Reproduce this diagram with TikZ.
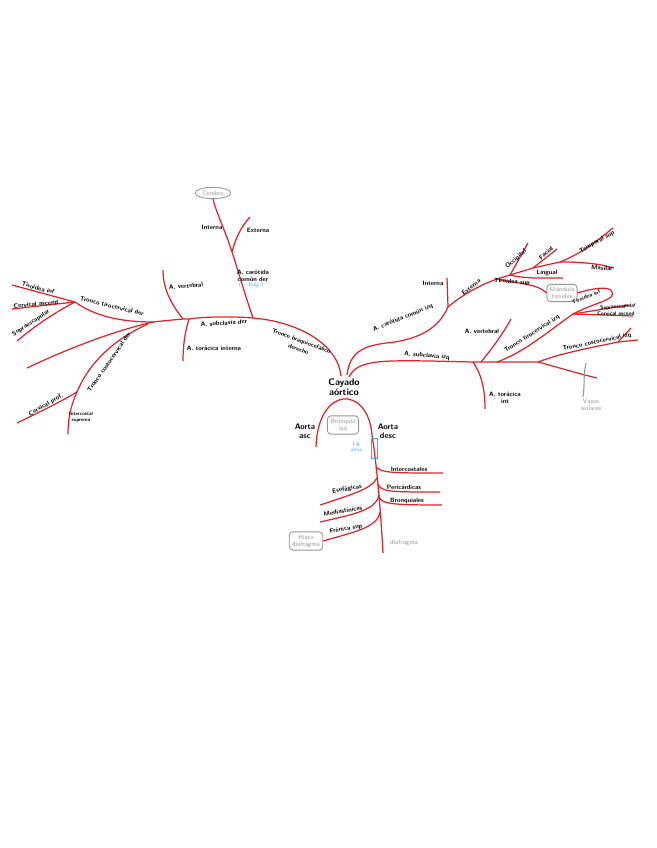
\documentclass[tikz,border=0pt]{standalone}
\usepackage{tikz}
\usetikzlibrary{shapes.geometric}
\definecolor{artred}{RGB}{226,34,38}
\definecolor{notegray}{RGB}{150,150,150}
\definecolor{hintblue}{RGB}{80,160,235}

\begin{document}
\begin{tikzpicture}
[x=0.02cm,y=-0.02cm,line width=0.7pt,font=\fontsize{3.6}{4}\selectfont\sffamily\bfseries]
\tikzstyle{art}=[draw=artred]
\tikzstyle{lbl}=[inner sep=0.4pt,align=center,text=black]
\tikzstyle{organ}=[draw=notegray,rounded corners=2pt,text=notegray,align=center,inner sep=1.6pt,line width=0.5pt,font=\fontsize{3.6}{4}\selectfont\sffamily]
\tikzstyle{note}=[text=notegray,align=center,inner sep=0.4pt,font=\fontsize{3.6}{4}\selectfont\sffamily]
\tikzstyle{hint}=[text=hintblue,align=center,inner sep=0.4pt,font=\fontsize{3}{3.4}\selectfont\sffamily]
\useasboundingbox (0,0) rectangle (656,848);

% organos
\node[organ,ellipse,inner sep=1pt,minimum width=30\pgflinewidth] (cer) at (213,193) {Cerebro};
\node[organ] (bro) at (343,425) {Bronquio\\izq};
\node[organ] (glt) at (562,293) {Glándula\\tiroides};
\node[organ] (hia) at (306,541) {Hiato\\diafragma};

% puntos
\coordinate (c1) at (341,376);
\coordinate (c2) at (347,375);
\coordinate (c3) at (349,377);
\coordinate (jB) at (253,318);
\coordinate (jCe) at (232,252);
\coordinate (eE) at (250,217);
\coordinate (jT) at (189,319);
\coordinate (jV) at (183,319);
\coordinate (eV) at (163,270);
\coordinate (eT) at (183,361);
\coordinate (jS) at (153,322);
\coordinate (jTC) at (75,302);
\coordinate (eTi) at (12,285);
\coordinate (eCa) at (12,309);
\coordinate (eSe) at (17,341);
\coordinate (eAx) at (27,368);
\coordinate (jCC) at (77,392);
\coordinate (eCC) at (68,434);
\coordinate (eCp) at (17,423);
\coordinate (mCi) at (395,342);
\coordinate (jCi) at (448,307);
\coordinate (eIi) at (447,278);
\coordinate (jE1) at (497,279);
\coordinate (jE2) at (510,275);
\coordinate (jE3) at (533,268);
\coordinate (jE4) at (560,262);
\coordinate (eOc) at (528,243);
\coordinate (eFa) at (557,249);
\coordinate (eLi) at (563,278);
\coordinate (eTs) at (613,228);
\coordinate (eMx) at (614,268);
\coordinate (jTi) at (473,362);
\coordinate (jVi) at (481,362);
\coordinate (jTCi) at (497,362);
\coordinate (jCCi) at (538,362);
\coordinate (eAxi) at (597,378);
\coordinate (eVi) at (511,319);
\coordinate (eTi2) at (485,409);
\coordinate (jTC2) at (573,314);
\coordinate (lp) at (612,292);
\coordinate (eSei) at (629,305);
\coordinate (eCai) at (633,316);
\coordinate (jCC2) at (618,342);
\coordinate (eCC1) at (631,328);
\coordinate (eCC2) at (638,340);
\coordinate (aA) at (316,447);
\coordinate (aT) at (372,435);
\coordinate (aB) at (383,553);
\coordinate (d1) at (376,467);
\coordinate (d2) at (378,484);
\coordinate (d3) at (379,497);
\coordinate (d4) at (377,478);
\coordinate (d5) at (379,495);
\coordinate (d6) at (380,512);
\coordinate (eIc) at (443,473);
\coordinate (ePc) at (440,492);
\coordinate (eBr) at (442,505);
\coordinate (eEs) at (320,505);
\coordinate (eMd) at (320,522);

% tronco braquiocefalico y ramas
\draw[art] (c1) .. controls (338,345) and (300,322) .. (jB);
\draw[art] (jB) .. controls (245,295) and (238,270) .. (jCe) .. controls (225,230) and (216,212) .. (cer.south);
\draw[art] (jCe) .. controls (236,236) and (242,226) .. (eE);
\draw[art] (jB) .. controls (230,316) and (200,317) .. (jT) -- (jV) .. controls (172,320) and (162,321) .. (jS);
\draw[art] (jV) .. controls (172,305) and (163,290) .. (eV);
\draw[art] (jT) .. controls (185,332) and (183,345) .. (eT);
\draw[art] (jS) .. controls (120,322) and (95,316) .. (jTC);
\draw[art] (jTC) -- (eTi);
\draw[art] (jTC) -- (eCa);
\draw[art] (jTC) .. controls (50,315) and (30,330) .. (eSe);
\draw[art] (jS) .. controls (110,332) and (65,350) .. (eAx);
\draw[art] (148,324) .. controls (112,340) and (88,365) .. (jCC) .. controls (71,405) and (68,418) .. (eCC);
\draw[art] (jCC) .. controls (60,402) and (40,412) .. (eCp);

% carotida izq
\draw[art] (c2) .. controls (350,350) and (365,345) .. (mCi) .. controls (425,337) and (440,325) .. (jCi);
\draw[art] (jCi) -- (eIi);
\draw[art] (jCi) .. controls (462,295) and (480,285) .. (jE1) -- (jE2) -- (jE3) -- (jE4) .. controls (585,252) and (600,238) .. (eTs);
\draw[art] (jE2) -- (eOc);
\draw[art] (jE3) -- (eFa);
\draw[art] (jE2) .. controls (525,279) and (545,278) .. (eLi);
\draw[art] (jE4) .. controls (585,262) and (600,264) .. (eMx);
\draw[art] (jE1) .. controls (520,284) and (538,284) .. (glt.west);

% subclavia izq
\draw[art] (c3) .. controls (358,358) and (385,360) .. (jTi) -- (jVi) -- (jTCi) -- (jCCi) .. controls (560,368) and (580,374) .. (eAxi);
\draw[art] (jVi) .. controls (495,345) and (505,330) .. (eVi);
\draw[art] (jTi) .. controls (482,375) and (485,390) .. (eTi2);
\draw[art] (jTCi) .. controls (525,352) and (550,330) .. (jTC2);
\draw[art] (jTC2) .. controls (596,302) and (616,300) .. (lp) .. controls (610,285) and (590,289) .. (glt.east);
\draw[art] (jTC2) -- (eSei);
\draw[art] (jTC2) -- (eCai);
\draw[art] (jCCi) .. controls (565,352) and (595,347) .. (jCC2);
\draw[art] (jCC2) -- (eCC1);
\draw[art] (jCC2) -- (eCC2);
\draw[notegray,line width=0.6pt] (586,363) .. controls (583,375) and (585,385) .. (583,397);

% cayado y aorta descendente
\draw[art] (aA) .. controls (318,385) and (368,385) .. (aT) .. controls (376,460) and (380,500) .. (aB);
\draw[art] (d1) .. controls (382,473) and (392,473) .. (eIc);
\draw[art] (d2) .. controls (381,492) and (390,492) .. (ePc);
\draw[art] (d3) .. controls (382,504) and (392,505) .. (eBr);
\draw[art] (d4) .. controls (372,489) and (350,495) .. (eEs);
\draw[art] (d5) .. controls (376,511) and (350,515) .. (eMd);
\draw[art] (d6) .. controls (378,528) and (350,533) .. (hia.east);
\draw[hintblue,line width=0.5pt] (371,438) rectangle (377,458);

% textos
\node[lbl,font=\fontsize{5.4}{5.8}\selectfont\sffamily\bfseries] (cay) at (344,387) {Cayado\\aórtico};
\node[lbl,font=\fontsize{4.6}{5}\selectfont\sffamily\bfseries] (aasc) at (305,431) {Aorta\\asc};
\node[lbl,font=\fontsize{4.6}{5}\selectfont\sffamily\bfseries] (adesc) at (388,431) {Aorta\\desc};
\node[hint] (lig) at (357,447) {Lig.\\arter.};
\node[lbl] (tint) at (212,227) {Interna};
\node[lbl] (text) at (258,230) {Externa};
\node[lbl] (tccd) at (253,276) {A. carótida\\común der};
\node[hint] (pulg) at (251,285) {(← Pulg.)};
\node[lbl] (tvd) at (186,286) [rotate=5] {A. vertebral};
\node[lbl] (tsd) at (224,323) [rotate=4] {A. subclavia der};
\node[lbl] (ttd) at (214,348) {A. torácica interna};
\node[lbl,font=\fontsize{3.4}{4.8}\selectfont\sffamily\bfseries] (tbc) at (300,345) [rotate=-20] {Tronco braquiocefálico\\derecho};
\node[lbl] (ttcd) at (112,306) [rotate=-14] {Tronco tirocervical der};
\node[lbl] (ttid) at (38,288) [rotate=-15] {Tiroidea inf};
\node[lbl] (tcad) at (36,304) [rotate=5] {Cervical ascend};
\node[lbl] (tsed) at (31,323) [rotate=33] {Supraescapular};
\node[lbl] (tccv) at (109,362) [rotate=55] {Tronco costocervical der};
\node[lbl] (tcp) at (46,405) [rotate=30] {Cervical prof.};
\node[lbl,font=\fontsize{2.8}{3.2}\selectfont\sffamily\bfseries] (tis) at (81,417) {Intercostal\\suprema};
\node[lbl] (tii) at (433,283) {Interna};
\node[lbl] (tcci) at (403,318) [rotate=22] {A. carótida común izq};
\node[lbl] (tei) at (471,287) [rotate=38] {Externa};
\node[lbl] (tts) at (512,282) [rotate=-5] {Tiroidea sup};
\node[lbl] (toc) at (516,259) [rotate=42] {Occipital};
\node[lbl] (tfa) at (546,253) [rotate=42] {Facial};
\node[lbl] (tli) at (547,273) {Lingual};
\node[lbl] (ttps) at (597,242) [rotate=30] {Temporal sup};
\node[lbl] (tmx) at (602,268) [rotate=-5] {Maxilar};
\node[lbl,font=\fontsize{3.2}{3.6}\selectfont\sffamily\bfseries] (ttii) at (586,297) [rotate=22] {Tiroidea inf};
\node[lbl,font=\fontsize{3}{3.4}\selectfont\sffamily\bfseries] (tsei) at (618,307) [rotate=5] {Supraescapular};
\node[lbl,font=\fontsize{3}{3.4}\selectfont\sffamily\bfseries] (tcai) at (616,314) {Cervical ascend};
\node[lbl] (ttci) at (532,334) [rotate=33] {Tronco tirocervical izq};
\node[lbl] (tcci2) at (597,342) [rotate=12] {Tronco costocervical izq};
\node[lbl] (tvi) at (482,331) {A. vertebral};
\node[lbl] (tti) at (505,398) {A. torácica\\int};
\node[lbl] (tsi) at (427,356) [rotate=-5] {A. subclavia izq};
\node[note] (vax) at (591,405) {Vasos\\axilares};
\node[lbl] (tic) at (409,469) {Intercostales};
\node[lbl] (tpc) at (404,487) {Pericárdicas};
\node[lbl] (tbr) at (407,501) {Bronquiales};
\node[lbl] (tes) at (347,489) [rotate=10] {Esofágicas};
\node[lbl] (tmd) at (343,511) [rotate=10] {Mediastínicas};
\node[lbl] (tfr) at (346,529) [rotate=10] {Frénica sup};
\node[note] (tdia) at (404,543) {diafragma};
\end{tikzpicture}
\end{document}
